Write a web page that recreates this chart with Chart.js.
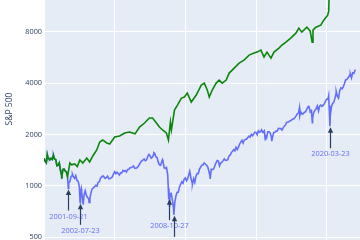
<!DOCTYPE html>
<html>
<head>
<meta charset="utf-8">
<script src="https://cdn.jsdelivr.net/npm/chart.js@4"></script>
<style>
  html, body { margin: 0; padding: 0; background: #fff; }
</style>
</head>
<body>
<canvas id="spx-chart" width="360" height="240"></canvas>
<script>
// S&P 500 month-end closes, Jan 2000 .. Dec 2021
const spxMonthly = [
  1394, 1366, 1499, 1452, 1421, 1455, 1431, 1518, 1437, 1429, 1315, 1320,
  1366, 1240, 1160, 1249, 1256, 1224, 1211, 1134, 1041, 1060, 1139, 1148,
  1130, 1107, 1147, 1077, 1067, 990, 912, 916, 815, 886, 936, 880,
  856, 841, 848, 917, 964, 975, 990, 1008, 996, 1051, 1058, 1112,
  1131, 1145, 1126, 1107, 1121, 1141, 1102, 1104, 1115, 1130, 1174, 1212,
  1181, 1204, 1181, 1157, 1192, 1191, 1234, 1220, 1229, 1207, 1249, 1248,
  1280, 1281, 1295, 1311, 1270, 1270, 1277, 1304, 1336, 1378, 1401, 1418,
  1438, 1407, 1421, 1482, 1531, 1503, 1455, 1474, 1527, 1549, 1481, 1468,
  1379, 1331, 1323, 1386, 1400, 1280, 1267, 1283, 1166, 969, 896, 903,
  826, 735, 798, 873, 919, 919, 987, 1021, 1057, 1036, 1096, 1115,
  1074, 1104, 1169, 1187, 1089, 1031, 1102, 1049, 1141, 1183, 1181, 1258,
  1286, 1327, 1326, 1364, 1345, 1321, 1292, 1219, 1131, 1253, 1247, 1258,
  1312, 1366, 1408, 1398, 1310, 1362, 1379, 1407, 1441, 1412, 1416, 1426,
  1498, 1515, 1569, 1598, 1631, 1606, 1686, 1633, 1682, 1757, 1806, 1848,
  1783, 1859, 1872, 1884, 1924, 1960, 1931, 2003, 1972, 2018, 2068, 2059,
  1995, 2105, 2068, 2086, 2107, 2063, 2104, 1972, 1920, 2079, 2080, 2044,
  1940, 1932, 2060, 2065, 2097, 2099, 2174, 2171, 2168, 2126, 2199, 2239,
  2279, 2364, 2363, 2384, 2412, 2423, 2470, 2472, 2519, 2575, 2648, 2674,
  2824, 2714, 2641, 2648, 2705, 2718, 2816, 2902, 2914, 2712, 2760, 2507,
  2704, 2784, 2834, 2946, 2752, 2942, 2980, 2926, 2977, 3038, 3141, 3231,
  3226, 2954, 2585, 2912, 3044, 3100, 3271, 3500, 3363, 3270, 3622, 3756,
  3714, 3811, 3973, 4181, 4204, 4298, 4395, 4523, 4308, 4605, 4567, 4766
];

// intra-month highs and lows
const spxExtraDates = [
  '2000-01-03', '2000-03-24', '2000-09-01', '2001-04-04', '2001-09-21',
  '2002-01-04', '2002-07-23', '2002-08-22', '2002-10-09', '2003-03-11',
  '2007-10-09', '2008-05-19', '2008-10-27', '2008-11-20', '2009-03-09',
  '2010-04-23', '2010-07-02', '2011-04-29', '2011-10-03', '2015-05-21',
  '2015-08-25', '2016-02-11', '2018-01-26', '2018-02-08', '2018-09-20',
  '2018-12-24', '2020-02-19', '2020-03-23', '2020-09-02', '2021-09-02',
  '2022-01-03'
];
const spxExtraValues = [
  1455, 1527, 1520, 1103, 966,
  1172, 797, 962, 777, 800,
  1565, 1426, 848, 752, 677,
  1217, 1022, 1364, 1099, 2131,
  1867, 1829, 2873, 2581, 2931,
  2351, 3386, 2237, 3580, 4537,
  4796
];

// green series
const greenDates = [
  '2000-01-03', '2000-01-31', '2000-02-29', '2000-03-24', '2000-03-31', '2000-04-28',
  '2000-05-31', '2000-06-30', '2000-07-31', '2000-09-01', '2000-09-29', '2000-10-31',
  '2000-11-30', '2000-12-29', '2001-01-31', '2001-02-28', '2001-03-30', '2001-04-04',
  '2001-04-30', '2001-05-31', '2001-06-29', '2001-07-31', '2001-08-31', '2001-09-14',
  '2001-10-31', '2001-12-14', '2002-03-05', '2002-05-10', '2002-07-15', '2002-09-30',
  '2003-01-10', '2003-03-25', '2003-06-15', '2003-09-25', '2003-12-10', '2004-02-25',
  '2004-06-10', '2004-08-25', '2005-01-01', '2005-05-10', '2005-09-15', '2006-01-20',
  '2006-06-10', '2006-10-05', '2007-02-10', '2007-06-15', '2007-09-05', '2007-12-15',
  '2008-03-01', '2008-05-20', '2008-08-28', '2008-10-20', '2008-12-10', '2009-01-05',
  '2009-03-25', '2009-06-10', '2009-09-20', '2009-12-05', '2010-02-20', '2010-06-01',
  '2010-10-08', '2011-02-15', '2011-05-05', '2011-07-20', '2011-09-10', '2011-11-25',
  '2012-03-05', '2012-05-22', '2012-08-10', '2012-11-20', '2013-02-05', '2013-06-15',
  '2013-10-20', '2014-02-25', '2014-07-05', '2014-11-10', '2015-01-25', '2015-05-05',
  '2015-07-25', '2015-10-10', '2016-01-20', '2016-04-08', '2016-08-15', '2016-10-30',
  '2017-02-10', '2017-06-15', '2017-10-25', '2018-01-10', '2018-03-28', '2018-08-05',
  '2018-10-30', '2018-12-20', '2019-01-10', '2019-03-25', '2019-07-30', '2019-10-15',
  '2020-01-25', '2020-02-20', '2020-03-05', '2020-03-23', '2020-06-30', '2021-01-04',
  '2022-01-03'
];
const greenValues = [
  1455, 1394, 1366, 1527, 1499, 1452,
  1421, 1455, 1431, 1520, 1437, 1429,
  1315, 1320, 1366, 1240, 1160, 1103,
  1249, 1256, 1224, 1211, 1134, 1180,
  1363, 1330, 1346, 1300, 1420, 1363,
  1459, 1382, 1499, 1625, 1810, 1860,
  1786, 1760, 1936, 1963, 2044, 2070,
  2020, 2216, 2339, 2502, 2502, 2339,
  2216, 2128, 2044, 1860, 2370, 2128,
  2787, 2980, 3276, 3320, 3504, 3104,
  3410, 3904, 4010, 3650, 3320, 3650,
  4010, 4176, 4010, 4176, 4590, 4910,
  5250, 5470, 5850, 6010, 6090, 6260,
  5700, 6090, 5620, 6090, 6430, 6700,
  6970, 7360, 7870, 8420, 7980, 8530,
  8100, 6970, 8200, 8530, 8770, 9380,
  10030, 10600, 14000, 22000, 26000, 32000,
  42000
];

// marked lows
const annotDates = ['2001-09-21', '2002-07-23', '2008-10-27', '2009-03-09', '2020-03-23'];
const annotValues = [966, 797, 848, 677, 2237];

const yTicks = [500, 1000, 2000, 4000, 8000];
const xGridYears = [2000, 2005, 2010, 2015, 2020];

const toYear = (s) => {
  const [y, m, d] = s.split('-').map(Number);
  const start = Date.UTC(y, 0, 1);
  return y + (Date.UTC(y, m - 1, d) - start) / (Date.UTC(y + 1, 0, 1) - start);
};

const bluePoints = spxMonthly
  .map((v, i) => ({ x: 2000 + (i + 1) / 12 - 0.002, y: v }))
  .concat(spxExtraDates.map((d, i) => ({ x: toYear(d), y: spxExtraValues[i] })))
  .sort((a, b) => a.x - b.x);
const greenPoints = greenDates.map((d, i) => ({ x: toYear(d), y: greenValues[i] }));

const textColor = '#2a3f5f';
const blue = '#636efa';

const plotBackground = {
  id: 'plotBackground',
  beforeDraw(chart) {
    const { ctx, chartArea: a } = chart;
    ctx.save();
    ctx.fillStyle = '#E5ECF6';
    ctx.fillRect(a.left, a.top, a.right - a.left, a.bottom - a.top);
    ctx.restore();
  }
};

const annotations = {
  id: 'annotations',
  afterDatasetsDraw(chart) {
    const { ctx, scales: { x, y } } = chart;
    ctx.save();
    annotDates.forEach((d, i) => {
      const px = Math.round(x.getPixelForValue(toYear(d))) + 0.5;
      const py = y.getPixelForValue(annotValues[i]);
      ctx.strokeStyle = textColor;
      ctx.fillStyle = textColor;
      ctx.lineWidth = 1.2;
      ctx.beginPath();
      ctx.moveTo(px, py + 22);
      ctx.lineTo(px, py + 5);
      ctx.stroke();
      ctx.beginPath();
      ctx.moveTo(px, py + 1);
      ctx.lineTo(px - 2.7, py + 6.5);
      ctx.lineTo(px + 2.7, py + 6.5);
      ctx.closePath();
      ctx.fill();
      ctx.fillStyle = blue;
      ctx.font = '7.4px "Open Sans"';
      ctx.textAlign = 'center';
      ctx.textBaseline = 'middle';
      ctx.fillText(d, px, py + 28);
    });
    ctx.restore();
  }
};

const axisTitle = {
  id: 'axisTitle',
  afterDraw(chart) {
    const { ctx } = chart;
    ctx.save();
    ctx.translate(10, 109);
    ctx.rotate(-Math.PI / 2);
    ctx.fillStyle = textColor;
    ctx.font = '8.5px "Open Sans"';
    ctx.textAlign = 'center';
    ctx.textBaseline = 'middle';
    ctx.fillText('S&P 500', 0, 0);
    ctx.restore();
  }
};

new Chart(document.getElementById('spx-chart').getContext('2d'), {
  type: 'line',
  data: {
    datasets: [
      {
        label: 'green',
        data: greenPoints,
        borderColor: '#0a870a',
        borderWidth: 1.6,
        pointRadius: 0,
        tension: 0,
      },
      {
        label: 'S&P 500',
        data: bluePoints,
        borderColor: blue,
        borderWidth: 1.6,
        pointRadius: 0,
        tension: 0,
      },
    ]
  },
  options: {
    responsive: false,
    animation: false,
    layout: { padding: 0 },
    plugins: {
      legend: { display: false },
      tooltip: { enabled: false },
    },
    scales: {
      x: {
        type: 'linear',
        min: 2000,
        max: 2022.35,
        afterBuildTicks: (s) => { s.ticks = xGridYears.map(v => ({ value: v })); },
        afterFit: (s) => { s.height = 0; },
        ticks: { display: false },
        grid: { color: '#ffffff', lineWidth: 1, drawTicks: false },
        border: { display: false },
      },
      y: {
        type: 'logarithmic',
        min: 482,
        max: 12310,
        afterBuildTicks: (s) => { s.ticks = yTicks.map(v => ({ value: v })); },
        afterFit: (s) => { s.width = 44; s.paddingTop = 0; s.paddingBottom = 0; },
        ticks: {
          color: textColor,
          padding: 2,
          font: { family: 'Open Sans', size: 7.3 },
          callback: (v) => String(v),
        },
        grid: { color: '#ffffff', lineWidth: 1, drawTicks: false },
        border: { display: false },
      }
    }
  },
  plugins: [plotBackground, annotations, axisTitle]
});
</script>
</body>
</html>
